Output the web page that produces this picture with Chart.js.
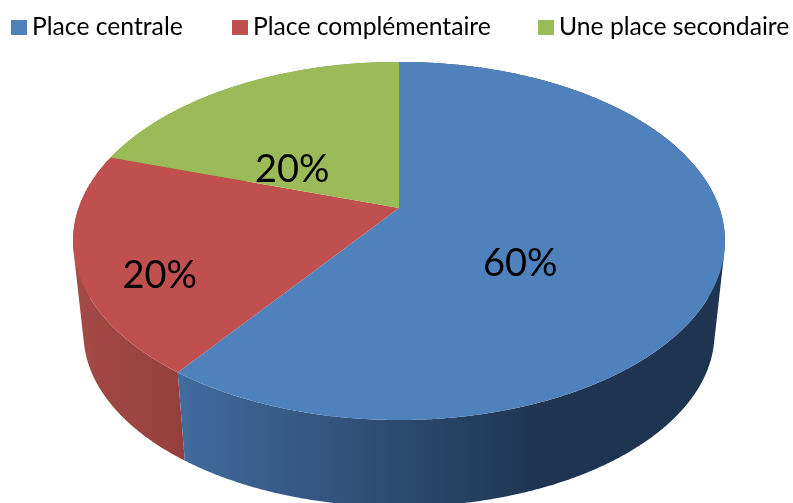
<!DOCTYPE html>
<html>
<head>
<meta charset="utf-8">
<style>html,body{margin:0;padding:0;background:#fff}#wrap{width:793px;height:503px;position:relative;overflow:hidden}</style>
<script src="https://cdn.jsdelivr.net/npm/chart.js@4"></script>
</head>
<body>
<div id="wrap"><canvas id="c" width="793" height="503"></canvas></div>
<script>
const categories = ["Place centrale", "Place complémentaire", "Une place secondaire"];
const values = [60, 20, 20];
const valueLabels = ["60%", "20%", "20%"];
const topColors = ["#4F81BD", "#C0504D", "#9BBB59"];
const wallStops = [["#416B9E", "#1E3450"], ["#A44A47", "#953F3C"], ["#7C9647", "#7C9647"]];
const wallRanges = [[178, 545], [75, 184], [110, 400]];
const legendSwatchX = [11, 232, 538];
const labelOffsets = [[-68, 23], [-50, 35], [-3, 39]];

// perspective projection of the pie disc
const P = {cx: 399, cy: 208, A: 320.4, B: 173, p: 0.184, vy: 3130, s: 0.968};
function project(angle, r, lower) {
  const phi = angle + Math.PI / 2;
  const u = Math.sin(phi) * r, v = Math.cos(phi) * r;
  const w = 1 + P.p * v;
  let x = P.cx + P.A * u / w, y = P.cy - P.B * v / w;
  if (lower) { x = P.cx + (x - P.cx) * P.s; y = P.vy + (y - P.vy) * P.s; }
  return [x, y];
}
function arcPoints(a0, a1, lower) {
  const n = Math.max(2, Math.ceil((a1 - a0) / 0.005)), pts = [];
  for (let i = 0; i <= n; i++) pts.push(project(a0 + (a1 - a0) * i / n, 1, lower));
  return pts;
}
function fillPts(ctx, pts, fill) {
  ctx.beginPath();
  pts.forEach((q, i) => i ? ctx.lineTo(q[0], q[1]) : ctx.moveTo(q[0], q[1]));
  ctx.closePath();
  ctx.fillStyle = fill;
  ctx.fill();
}
function signedArea(q) {
  let s = 0;
  q.forEach((p, i) => { const n = q[(i + 1) % q.length]; s += p[0] * n[1] - n[0] * p[1]; });
  return s;
}
const pie3d = {
  id: "pie3d",
  beforeDatasetDraw(chart, args) {
    const ctx = chart.ctx, arcs = chart.getDatasetMeta(args.index).data;
    ctx.save();
    [2, 1, 0].forEach(i => {
      const a = arcs[i], g = ctx.createLinearGradient(wallRanges[i][0], 0, wallRanges[i][1], 0);
      g.addColorStop(0, wallStops[i][0]);
      g.addColorStop(1, wallStops[i][1]);
      const top = arcPoints(a.startAngle, a.endAngle, false);
      const low = arcPoints(a.startAngle, a.endAngle, true);
      // sweep the edge along the rim in one path, same winding, so the union has no seams
      ctx.beginPath();
      for (let k = 0; k + 1 < top.length; k++) {
        let q = [top[k], top[k + 1], low[k + 1], low[k]];
        if (signedArea(q) < 0) q = q.reverse();
        q.forEach((p, j) => j ? ctx.lineTo(p[0], p[1]) : ctx.moveTo(p[0], p[1]));
        ctx.closePath();
      }
      ctx.fillStyle = g;
      ctx.fill();
    });
    arcs.forEach((a, i) => {
      const pts = arcPoints(a.startAngle, a.endAngle, false);
      pts.push(project(0, 0, false));
      fillPts(ctx, pts, topColors[i]);
    });
    ctx.restore();
    return false;
  },
  afterDraw(chart) {
    const ctx = chart.ctx, arcs = chart.getDatasetMeta(0).data;
    ctx.save();
    ctx.fillStyle = "#000";
    ctx.textBaseline = "middle";
    ctx.textAlign = "center";
    ctx.font = "38px Lato";
    arcs.forEach((a, i) => {
      const q = project((a.startAngle + a.endAngle) / 2, 0.6, false);
      ctx.fillText(valueLabels[i], q[0] + labelOffsets[i][0], q[1] + labelOffsets[i][1]);
    });
    ctx.textAlign = "left";
    ctx.font = "24.7px Lato";
    categories.forEach((t, i) => {
      ctx.fillStyle = topColors[i];
      ctx.fillRect(legendSwatchX[i], 20, 16, 15);
      ctx.fillStyle = "#000";
      ctx.fillText(t, legendSwatchX[i] + 21, 27);
    });
    ctx.restore();
  }
};
new Chart(document.getElementById("c"), {
  type: "pie",
  data: {labels: categories, datasets: [{data: values, backgroundColor: topColors, borderWidth: 0}]},
  options: {
    responsive: false, animation: false,
    plugins: {legend: {display: false}, tooltip: {enabled: false}}
  },
  plugins: [pie3d]
});
</script>
</body>
</html>
